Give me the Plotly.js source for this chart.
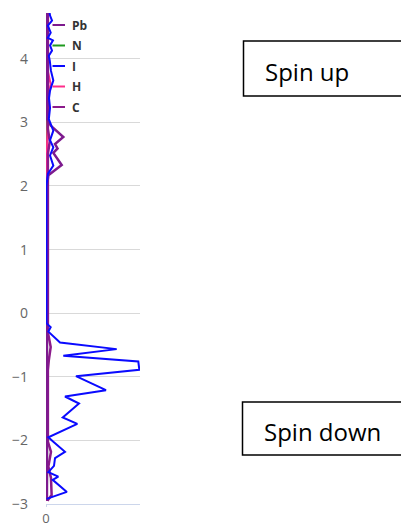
<!DOCTYPE html>
<html>
<head>
<meta charset="utf-8">
<script src="https://cdn.plot.ly/plotly-3.0.1.min.js"></script>
<style>
  html, body { margin: 0; padding: 0; background: #fff; }
  #chart { width: 401px; height: 527px; }
</style>
</head>
<body>
<div id="chart"></div>
<script>
// Projected density of states per element, energy (eV) on the vertical axis.
const seriesNames  = ['Pb', 'N', 'I', 'H', 'C'];
const seriesColors = ['#7d1a8e', '#1f9a1f', '#0a0aff', '#ff2d8a', '#8b1a8b'];

const pbEnergy = [4.8, 3.06, 2.95, 2.77, 2.66, 2.59, 2.52, 2.33, 2.17, 2.0, -0.3, -0.9, -2.0, -2.95];
const pbDos    = [0.1, 0.1, 0.5, 1.84, 0.96, 1.23, 0.78, 1.67, 0.25, 0.1, 0.1, 0.12, 0.1, 0.1];

const nEnergy = [4.8, 3.0, 2.5, -0.5, -2.5, -2.95];
const nDos    = [0.1, 0.12, 0.1, 0.1, 0.12, 0.1];

const iEnergy = [4.8, 4.68, 4.6, 4.52, 4.41, 4.33, 4.29, 4.21, 4.13, 4.05, 3.97, 3.81, 3.66, 3.5, 3.38, 3.23, 3.05, 2.87, 2.72, 2.61, 2.48, 2.32, 2.19, 2.0,
                 -0.1, -0.16, -0.22, -0.29, -0.46, -0.565, -0.67, -0.76, -0.89, -0.99, -1.21, -1.31, -1.42, -1.64, -1.74, -1.95, -2.02, -2.18, -2.28, -2.4, -2.5, -2.57, -2.62, -2.81, -2.92];
const iDos    = [0.3, 0.43, 0.64, 0.2, 0.5, 0.2, 0.74, 0.43, 0.64, 0.3, 0.4, 0.53, 0.78, 0.43, 0.32, 0.43, 0.3, 0.78, 0.43, 0.78, 0.43, 0.78, 0.2, 0.05,
                 0.05, 0.07, 0.5, 0.25, 1.49, 7.52, 1.84, 9.82, 9.93, 3.19, 6.38, 2.02, 3.51, 1.78, 3.33, 0.25, 0.78, 2.02, 0.96, 0.85, 0.25, 1.31, 0.71, 2.22, 0.07];

const hEnergy = [4.8, 3.8, 3.6, 3.4, 2.5, -2.95];
const hDos    = [0.1, 0.2, 0.5, 0.2, 0.1, 0.1];

const cEnergy = [4.8, 2.9, 2.7, 2.5, -0.3, -0.53, -0.74, -0.9, -2.02, -2.18, -2.41, -2.59, -2.86, -2.95];
const cDos    = [0.2, 0.2, 0.4, 0.2, 0.2, 0.5, 0.3, 0.2, 0.2, 0.53, 0.25, 0.53, 0.6, 0.15];

const boxLabels = ['Spin up', 'Spin down'];

const energyTicks = [-3, -2, -1, 0, 1, 2, 3, 4];
const dosTicks = [0];

// Plot box in pixels (used to place the in-chart key and the spin labels)
const W = 401, H = 527;
const M = { l: 46, r: 261, t: 13, b: 23 };
const plotW = W - M.l - M.r, plotH = H - M.t - M.b;
const px2x = px => (px - M.l) / plotW;
const px2y = py => (H - M.b - py) / plotH;

const series = {
  Pb: [pbDos, pbEnergy],
  N:  [nDos, nEnergy],
  I:  [iDos, iEnergy],
  H:  [hDos, hEnergy],
  C:  [cDos, cEnergy]
};

// Draw order: faint species first, iodine on top
const drawOrder = ['N', 'H', 'C', 'Pb', 'I'];
const lineWidths = { N: 2, H: 2, C: 2.5, Pb: 2.5, I: 2 };
const traces = drawOrder.map(name => {
  const k = seriesNames.indexOf(name);
  return {
    type: 'scatter',
    mode: 'lines',
    name: name,
    x: series[name][0],
    y: series[name][1],
    line: { color: seriesColors[k], width: lineWidths[name] },
    showlegend: false,
    hoverinfo: 'skip'
  };
});

// Compact key at the top-left of the plot
const shapes = [];
const annotations = [];
seriesNames.forEach((name, k) => {
  const py = 25 + k * 20.5;
  shapes.push({
    type: 'line', xref: 'paper', yref: 'paper',
    x0: px2x(52.5), x1: px2x(65), y0: px2y(py), y1: px2y(py),
    line: { color: seriesColors[k], width: 2 }
  });
  annotations.push({
    xref: 'paper', yref: 'paper', x: px2x(70), y: px2y(py),
    xanchor: 'left', yanchor: 'middle', showarrow: false,
    text: '<b>' + name + '</b>',
    font: { family: 'Open Sans, sans-serif', size: 12, color: '#333333' }
  });
});

// Spin channel labels in framed boxes
const boxes = [
  { x0: 243.5, y0: 41, y1: 96, tx: 263, ty: 71 },
  { x0: 242.5, y0: 402, y1: 455, tx: 262, ty: 431 }
];
boxes.forEach((b, k) => {
  shapes.push({
    type: 'rect', xref: 'paper', yref: 'paper',
    x0: px2x(b.x0), x1: px2x(420), y0: px2y(b.y1), y1: px2y(b.y0),
    line: { color: '#000000', width: 1.5 }, fillcolor: 'rgba(0,0,0,0)'
  });
  annotations.push({
    xref: 'paper', yref: 'paper', x: px2x(b.tx), y: px2y(b.ty),
    xanchor: 'left', yanchor: 'middle', showarrow: false,
    text: boxLabels[k],
    font: { family: 'Open Sans, sans-serif', size: 24, color: '#000000' }
  });
});

const layout = {
  width: W, height: H,
  margin: M,
  paper_bgcolor: '#ffffff',
  plot_bgcolor: '#ffffff',
  showlegend: false,
  xaxis: {
    range: [0, 10],
    tickvals: dosTicks,
    ticktext: dosTicks.map(String),
    showgrid: false,
    zeroline: false,
    showline: true,
    linecolor: '#ccd6eb',
    linewidth: 1,
    ticks: 'outside',
    ticklen: 2,
    tickcolor: '#ccd6eb',
    tickfont: { family: 'Open Sans, sans-serif', size: 13, color: '#666666' }
  },
  yaxis: {
    range: [-3, 4.72],
    tickvals: energyTicks,
    showgrid: true,
    gridcolor: '#d9d9d9',
    gridwidth: 1,
    zeroline: false,
    showline: false,
    ticks: '',
    ticklabelstandoff: 17,
    tickfont: { family: 'Open Sans, sans-serif', size: 14, color: '#666666' }
  },
  shapes: shapes,
  annotations: annotations
};

Plotly.newPlot('chart', traces, layout, { displayModeBar: false, staticPlot: true });
</script>
</body>
</html>
